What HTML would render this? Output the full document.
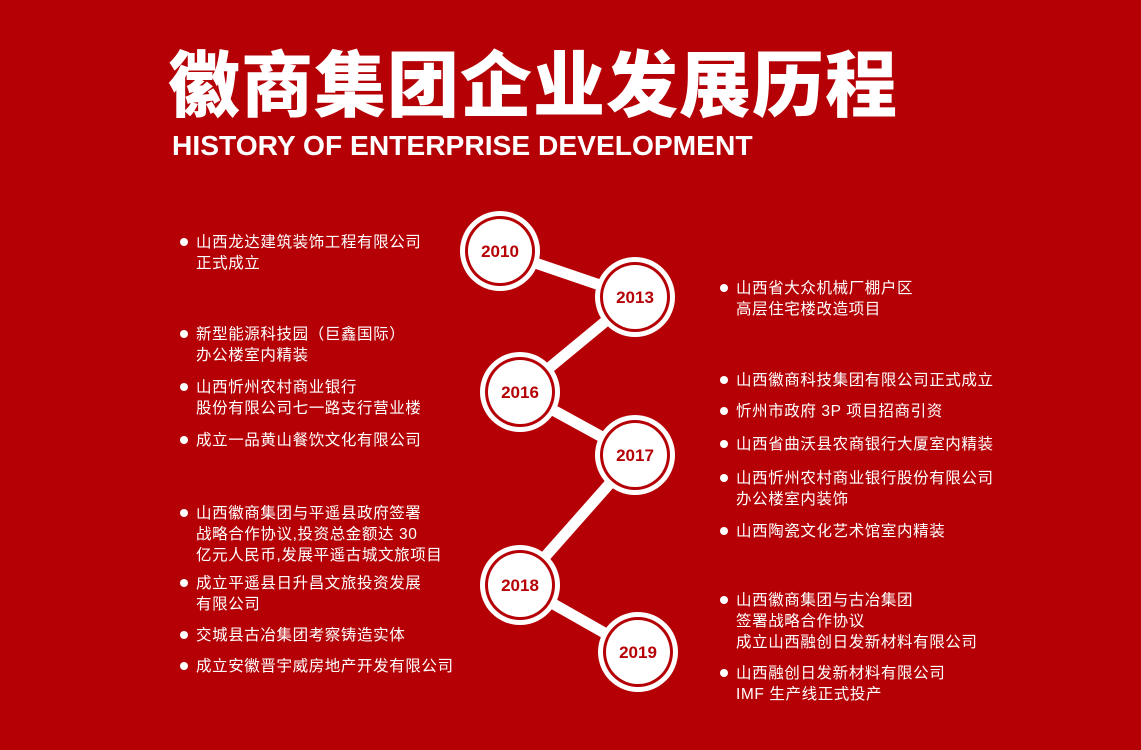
<!DOCTYPE html>
<html><head><meta charset="utf-8"><style>
html,body{margin:0;padding:0}
body{width:1141px;height:750px;background:#b50005;position:relative;overflow:hidden;font-family:"Liberation Sans","Noto Sans CJK SC",sans-serif;color:#fff}
.t{position:absolute;left:168px;top:37px;font-size:72px;letter-spacing:1px;line-height:86px;font-family:"Noto Sans CJK SC",sans-serif;font-weight:900;white-space:nowrap}
.s{position:absolute;left:172px;top:127px;font-size:28.2px;font-weight:bold;line-height:36px;white-space:nowrap}
.i{position:absolute;font-size:15.5px;line-height:21px;letter-spacing:0.6px;white-space:nowrap;font-family:"Liberation Sans","Noto Sans CJK SC",sans-serif}
.i:before{content:"";position:absolute;left:-16px;top:6px;width:8px;height:8px;border-radius:50%;background:#fff}
.l{left:196px}.r{left:736px}
</style></head><body>
<div class="t">徽商集团企业发展历程</div>
<div class="s">HISTORY OF ENTERPRISE DEVELOPMENT</div>
<svg width="1141" height="750" style="position:absolute;left:0;top:0">
<g stroke="#fff" stroke-width="11">
<line x1="500" y1="251" x2="635" y2="297"/>
<line x1="635" y1="297" x2="520" y2="392"/>
<line x1="520" y1="392" x2="635" y2="455"/>
<line x1="635" y1="455" x2="520" y2="585"/>
<line x1="520" y1="585" x2="638" y2="652"/>
</g>
<g font-family="Liberation Sans" font-weight="bold" font-size="17" fill="#b50005" text-anchor="middle">
<g transform="translate(500,251)"><circle r="40" fill="#fff"/><circle r="35" fill="#b50005"/><circle r="32" fill="#fff"/><text y="6">2010</text></g>
<g transform="translate(635,297)"><circle r="40" fill="#fff"/><circle r="35" fill="#b50005"/><circle r="32" fill="#fff"/><text y="6">2013</text></g>
<g transform="translate(520,392)"><circle r="40" fill="#fff"/><circle r="35" fill="#b50005"/><circle r="32" fill="#fff"/><text y="6">2016</text></g>
<g transform="translate(635,455)"><circle r="40" fill="#fff"/><circle r="35" fill="#b50005"/><circle r="32" fill="#fff"/><text y="6">2017</text></g>
<g transform="translate(520,585)"><circle r="40" fill="#fff"/><circle r="35" fill="#b50005"/><circle r="32" fill="#fff"/><text y="6">2018</text></g>
<g transform="translate(638,652)"><circle r="40" fill="#fff"/><circle r="35" fill="#b50005"/><circle r="32" fill="#fff"/><text y="6">2019</text></g>
</g>
</svg>
<div class="i l" style="top:232px">山西龙达建筑装饰工程有限公司<br>正式成立</div>
<div class="i l" style="top:324px">新型能源科技园（巨鑫国际）<br>办公楼室内精装</div>
<div class="i l" style="top:377px">山西忻州农村商业银行<br>股份有限公司七一路支行营业楼</div>
<div class="i l" style="top:430px">成立一品黄山餐饮文化有限公司</div>
<div class="i l" style="top:503px">山西徽商集团与平遥县政府签署<br>战略合作协议,投资总金额达 30<br>亿元人民币,发展平遥古城文旅项目</div>
<div class="i l" style="top:573px">成立平遥县日升昌文旅投资发展<br>有限公司</div>
<div class="i l" style="top:625px">交城县古冶集团考察铸造实体</div>
<div class="i l" style="top:656px">成立安徽晋宇威房地产开发有限公司</div>
<div class="i r" style="top:278px">山西省大众机械厂棚户区<br>高层住宅楼改造项目</div>
<div class="i r" style="top:370px">山西徽商科技集团有限公司正式成立</div>
<div class="i r" style="top:401px">忻州市政府 3P 项目招商引资</div>
<div class="i r" style="top:434px">山西省曲沃县农商银行大厦室内精装</div>
<div class="i r" style="top:468px">山西忻州农村商业银行股份有限公司<br>办公楼室内装饰</div>
<div class="i r" style="top:521px">山西陶瓷文化艺术馆室内精装</div>
<div class="i r" style="top:590px">山西徽商集团与古冶集团<br>签署战略合作协议<br>成立山西融创日发新材料有限公司</div>
<div class="i r" style="top:663px">山西融创日发新材料有限公司<br>IMF 生产线正式投产</div>
</body></html>
